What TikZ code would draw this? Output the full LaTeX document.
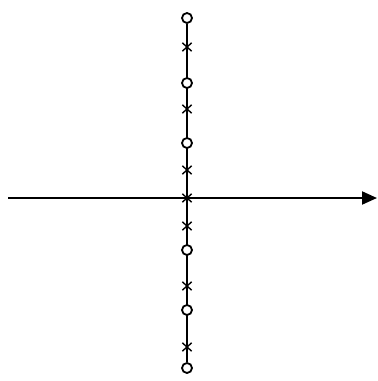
\documentclass[tikz,border=0pt]{standalone}
\usepackage{tikz}
\usetikzlibrary{arrows.meta,shapes.misc,backgrounds}

\begin{document}
\begin{tikzpicture}[x=1pt,y=-1pt,
    zeromark/.style={draw, circle, line width=1.8pt, inner sep=0pt,
                     minimum size=10pt, fill=white},
    polemark/.style={draw, cross out, line width=1.4pt, inner sep=0pt,
                     minimum width=8pt, minimum height=7pt},
    axisline/.style={line width=2pt}]
  \useasboundingbox (0,0) rectangle (378,381);
  % zeros (o) and poles (x) on the imaginary axis
  \foreach \y [count=\i] in {18,83,143,250,310,368}
    \node[zeromark] (z\i) at (187,\y) {};
  \foreach \y [count=\i] in {47,109,170,198,226,286,347}
    \node[polemark] (p\i) at (187,\y) {};
  \coordinate (left) at (8,198);
  \coordinate (right) at (377,198);
  \begin{scope}[on background layer]
    \draw[axisline] (z1) -- (z6);
  \end{scope}
  \draw[axisline, -{Triangle[length=15pt,width=13pt]}] (left) -- (right);
\end{tikzpicture}
\end{document}
